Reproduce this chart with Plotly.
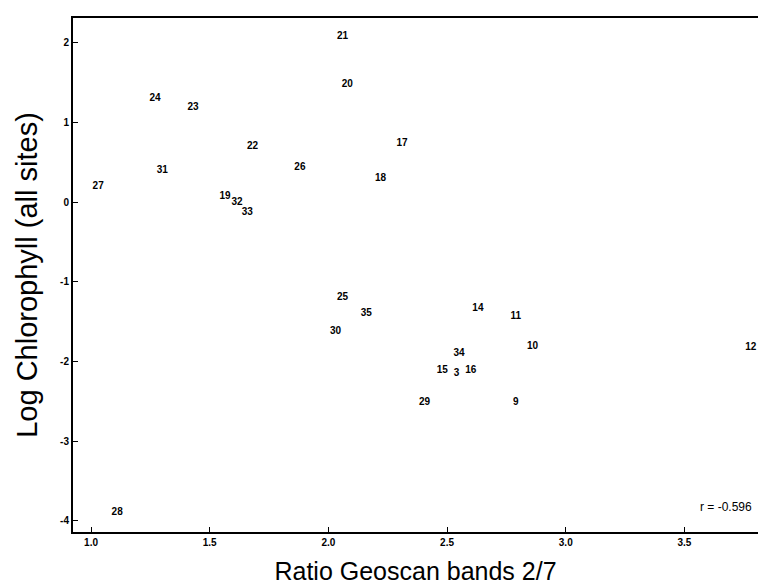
import plotly.graph_objects as go

sites = ["21", "20", "24", "23", "22", "31", "26", "27", "19", "32", "33",
         "17", "18", "25", "35", "30", "14", "11", "10", "12", "34", "15",
         "3", "16", "29", "9", "28"]
ratio = [2.06, 2.08, 1.27, 1.43, 1.68, 1.30, 1.88, 1.03, 1.565, 1.615, 1.658,
         2.31, 2.22, 2.06, 2.16, 2.03, 2.63, 2.79, 2.86, 3.78, 2.55, 2.48,
         2.54, 2.60, 2.405, 2.79, 1.11]
logchl = [2.08, 1.47, 1.30, 1.19, 0.70, 0.40, 0.43, 0.20, 0.075, -0.01, -0.13,
          0.74, 0.30, -1.20, -1.40, -1.63, -1.34, -1.44, -1.81, -1.83, -1.90, -2.11,
          -2.15, -2.11, -2.52, -2.51, -3.90]

x_ticks = [1.0, 1.5, 2.0, 2.5, 3.0, 3.5]
x_ticklabels = ["1.0", "1.5", "2.0", "2.5", "3.0", "3.5"]
y_ticks = [2, 1, 0, -1, -2, -3, -4]
y_ticklabels = ["2", "1", "0", "-1", "-2", "-3", "-4"]
r_text = "r = -0.596"

fig = go.Figure()
fig.add_trace(go.Scatter(
    x=ratio, y=logchl, mode="text", text=sites,
    textposition="middle center", cliponaxis=False,
    textfont=dict(family="Liberation Sans", size=10, color="black", weight="bold"),
    hoverinfo="x+y+text", showlegend=False,
))

fig.add_annotation(x=3.675, y=-3.82, text=r_text, showarrow=False,
                   font=dict(family="Liberation Sans", size=12, color="black"))

fig.update_layout(
    width=758, height=588,
    margin=dict(l=73, r=0, t=18, b=56),
    paper_bgcolor="white", plot_bgcolor="white",
    showlegend=False,
)
fig.update_xaxes(
    range=[0.924, 3.81], tickvals=x_ticks, ticktext=x_ticklabels,
    showgrid=False, zeroline=False,
    showline=True, linecolor="black", linewidth=2, mirror=True,
    ticks="inside", ticklen=5, tickcolor="black",
    tickfont=dict(family="Liberation Sans", size=10, color="black", weight="bold"),
    title=dict(text="Ratio Geoscan bands 2/7",
               font=dict(family="Liberation Sans", size=25, color="black"), standoff=15),
)
fig.update_yaxes(
    range=[-4.14, 2.31], tickvals=y_ticks, ticktext=y_ticklabels,
    showgrid=False, zeroline=False,
    showline=True, linecolor="black", linewidth=2,
    ticks="inside", ticklen=5, tickcolor="black",
    tickfont=dict(family="Liberation Sans", size=10, color="black", weight="bold"),
    title=dict(text="Log Chlorophyll (all sites)",
               font=dict(family="Liberation Sans", size=29, color="black"), standoff=14),
)

fig.write_html("out.html")
